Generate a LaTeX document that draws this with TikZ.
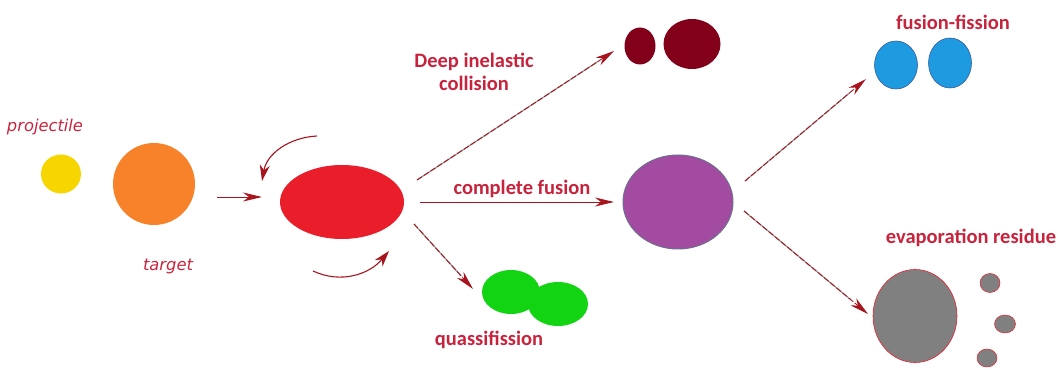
\documentclass[tikz,border=0pt]{standalone}
\usepackage{fontspec}
\setmainfont{Carlito}
\newfontfamily\dejavu{DejaVu Sans}
\usetikzlibrary{arrows.meta,shapes.geometric,calc}
\definecolor{lblred}{HTML}{C8233C}
\definecolor{arrred}{HTML}{A8141E}
\definecolor{ballred}{HTML}{EA1E2A}
\definecolor{ballorange}{HTML}{F7822A}
\definecolor{ballyellow}{HTML}{F7D500}
\definecolor{balldark}{HTML}{82001A}
\definecolor{ballgreen}{HTML}{12D412}
\definecolor{ballpurple}{HTML}{A24BA0}
\definecolor{purpleedge}{HTML}{6E6E8E}
\definecolor{ballblue}{HTML}{1E9BE0}
\definecolor{blueedge}{HTML}{3A5A9A}
\definecolor{ballgray}{HTML}{808080}
\tikzset{
  ball/.style={ellipse,inner sep=0pt,draw=none},
  lbl/.style={text=lblred,font=\fontsize{20.5}{23}\selectfont\bfseries,align=center,inner sep=0pt},
  ilbl/.style={text=lblred,font=\fontsize{16.3}{18}\selectfont\dejavu\itshape,inner sep=0pt},
  tip/.style={-{Stealth[length=19pt,width=9pt,inset=6pt]}},
  ctip/.style={-{Stealth[length=16pt,width=10pt,inset=5pt]}},
  solidarr/.style={tip,draw=arrred,line width=0.9pt},
  grayline/.style={draw=gray!80,line width=1.2pt},
  dasharr/.style={tip,draw=arrred,line width=0.9pt,dash pattern=on 6pt off 2pt},
  curvarr/.style={ctip,draw=arrred,line width=1.1pt}
}
\begin{document}
\begin{tikzpicture}[x=1pt,y=-1pt]
\useasboundingbox (0,0) rectangle (1060,371);
% balls
\node[ball,fill=ballyellow,minimum width=40pt,minimum height=39pt] (proj) at (61,174) {};
\node[ball,fill=ballorange,minimum width=82pt,minimum height=82pt] (targ) at (154,184) {};
\node[ball,fill=ballred,minimum width=124pt,minimum height=74pt] (comp) at (342,202) {};
\node[ball,fill=balldark,minimum width=31pt,minimum height=37pt] (dic1) at (640,46) {};
\node[ball,fill=balldark,minimum width=57pt,minimum height=50pt] (dic2) at (692,44) {};
\node[ball,fill=ballgreen,minimum width=58pt,minimum height=44pt] (qf1) at (511,292) {};
\node[ball,fill=ballgreen,minimum width=60pt,minimum height=44pt] (qf2) at (558,304) {};
\node[ball,fill=ballpurple,draw=purpleedge,line width=1pt,minimum width=110pt,minimum height=94pt] (cn) at (678,202) {};
\node[ball,fill=ballblue,draw=blueedge,line width=0.6pt,minimum width=43pt,minimum height=48pt] (ff1) at (896,65) {};
\node[ball,fill=ballblue,draw=blueedge,line width=0.6pt,minimum width=43pt,minimum height=50pt] (ff2) at (950,63) {};
\node[ball,fill=ballgray,draw=ballred,line width=0.6pt,minimum width=84pt,minimum height=93pt] (er) at (915,316) {};
\node[ball,fill=ballgray,draw=ballred,line width=0.5pt,minimum width=20pt,minimum height=19pt] (ev1) at (990,283) {};
\node[ball,fill=ballgray,draw=ballred,line width=0.5pt,minimum width=21pt,minimum height=18pt] (ev2) at (1005,324) {};
\node[ball,fill=ballgray,draw=ballred,line width=0.5pt,minimum width=20pt,minimum height=18pt] (ev3) at (987,358) {};
% labels
\node[ilbl] (lproj) at (45,127) {projectile};
\node[ilbl] (ltarg) at (168,266) {target};
\node[lbl] (ldic) at (474,72) {Deep inelastic\\collision};
\node[lbl] (lcf) at (522,189) {complete fusion};
\node[lbl] (lqf) at (489,340) {quassifission};
\node[lbl] (lff) at (953,22) {fusion-fission};
\node[lbl] (ler) at (971,238) {evaporation residue};
% connector ends
\coordinate (a0) at (217,197); \coordinate (a1) at (262,197);
\coordinate (c0) at (317,136); \coordinate (c1) at (262,181);
\coordinate (d0) at (313,271); \coordinate (d1) at (389,251);
\coordinate (b0) at (417,180); \coordinate (b1) at (614,51);
\coordinate (f0) at (420,202); \coordinate (f1) at (614,202);
\coordinate (q0) at (414,224); \coordinate (q1) at (473,289);
\coordinate (g0) at (745,181); \coordinate (g1) at (866,79);
\coordinate (h0) at (744,211); \coordinate (h1) at (868,314);
% connectors
\draw[solidarr] (a0) -- (a1);
\draw[curvarr] (c0) to[out=183,in=80] (c1);
\draw[curvarr] (d0) to[out=-25,in=-130] (d1);
\draw[grayline] (b0) -- ($(b0)!0.92!(b1)$);
\draw[dasharr] (b0) -- (b1);
\draw[solidarr] (f0) -- (f1);
\draw[grayline] (q0) -- ($(q0)!0.8!(q1)$);
\draw[dasharr] (q0) -- (q1);
\draw[grayline] (g0) -- ($(g0)!0.86!(g1)$);
\draw[dasharr] (g0) -- (g1);
\draw[grayline] (h0) -- ($(h0)!0.86!(h1)$);
\draw[dasharr] (h0) -- (h1);
\end{tikzpicture}
\end{document}
